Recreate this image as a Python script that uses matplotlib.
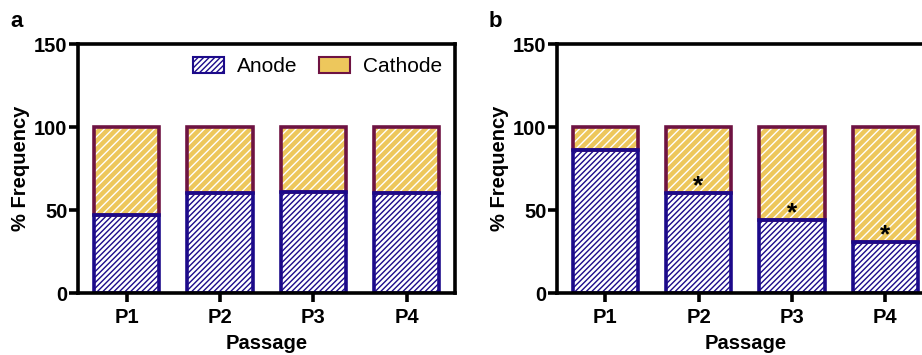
import matplotlib
matplotlib.use("Agg")
import matplotlib.pyplot as plt
from matplotlib.patches import Patch

plt.rcParams['font.family'] = ['Liberation Sans', 'DejaVu Sans']
plt.rcParams['hatch.linewidth'] = 1.0

passages = ["P1", "P2", "P3", "P4"]
anode_a = [47, 60, 61, 60]
anode_b = [86, 60, 44, 31]
total = [100, 100, 100, 100]
stars_b = ["", "*", "*", "*"]

ANODE_EDGE = "#1c0a8a"
CATH_EDGE = "#6e1342"
CATH_FILL = "#edc75c"


def panel(ax, anode, letter, stars=None):
	x = list(range(len(passages)))
	cath = [t - a for t, a in zip(total, anode)]
	w = 0.7
	# fill with hatch first, outline separately
	ax.bar(x, anode, w, color="white", edgecolor=ANODE_EDGE, hatch="//////", linewidth=0)
	ax.bar(x, cath, w, bottom=anode, color=CATH_FILL, edgecolor="white", hatch="////", linewidth=0)
	ax.bar(x, cath, w, bottom=anode, fill=False, edgecolor=CATH_EDGE, linewidth=2.6)
	ax.bar(x, anode, w, fill=False, edgecolor=ANODE_EDGE, linewidth=2.6)

	if stars:
		for i, s in enumerate(stars):
			if s:
				ax.text(x[i], anode[i] + 4, s, ha="center", va="center",
					fontsize=19, fontweight="bold")

	ax.set_xlim(-0.52, 3.52)
	ax.set_ylim(0, 150)
	ax.set_yticks([0, 50, 100, 150])
	ax.set_xticks(x)
	ax.set_xticklabels(passages)
	for sp in ax.spines.values():
		sp.set_linewidth(2.6)
	ax.tick_params(axis="both", width=2.6, length=6.5, labelsize=14.5)
	ax.tick_params(axis="x", pad=4)
	ax.tick_params(axis="y", pad=1)
	for lab in ax.get_xticklabels() + ax.get_yticklabels():
		lab.set_fontweight("bold")
	ax.set_ylabel("% Frequency", fontsize=14.5, fontweight="bold", labelpad=3)
	ax.set_xlabel("Passage", fontsize=14.5, fontweight="bold", labelpad=5)
	ax.text(-0.18, 1.09, letter, transform=ax.transAxes, fontsize=16,
		fontweight="bold", va="center")


fig = plt.figure(figsize=(9.22, 3.55), dpi=100)
ax1 = fig.add_axes([0.0846, 0.1746, 0.409, 0.7014])
ax2 = fig.add_axes([0.6038, 0.1746, 0.409, 0.7014])

panel(ax1, anode_a, "a")
panel(ax2, anode_b, "b", stars_b)

handles = [
	Patch(facecolor="white", edgecolor=ANODE_EDGE, hatch="//////", linewidth=1.5),
	Patch(facecolor=CATH_FILL, edgecolor=CATH_EDGE, linewidth=1.5),
]
ax1.legend(handles, ["Anode", "Cathode"], loc="upper right", ncol=2, frameon=False,
	fontsize=15, handlelength=1.5, handleheight=0.85, columnspacing=1.0,
	handletextpad=0.65, borderaxespad=0.2)

fig.savefig("out.png", dpi=100)
